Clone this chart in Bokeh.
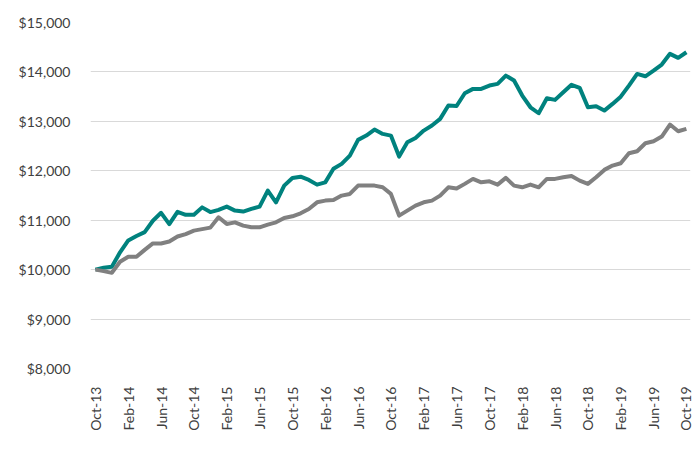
import math
from bokeh.plotting import figure
from bokeh.models import (ColumnDataSource, FixedTicker, NumeralTickFormatter,
                          Legend, LegendItem, Range1d)
from bokeh.embed import file_html
from bokeh.resources import INLINE

# Month index 0 = Oct-13 ... 72 = Oct-19
tick_positions = [0, 4, 8, 12, 16, 20, 24, 28, 32, 36, 40, 44, 48, 52, 56, 60, 64, 68, 72]
tick_labels = ["Oct-13", "Feb-14", "Jun-14", "Oct-14", "Feb-15", "Jun-15", "Oct-15",
               "Feb-16", "Jun-16", "Oct-16", "Feb-17", "Jun-17", "Oct-17", "Feb-18",
               "Jun-18", "Oct-18", "Feb-19", "Jun-19", "Oct-19"]

overlay = [10000, 10040, 10060, 10350, 10590, 10680, 10760, 10990, 11150, 10920,
           11170, 11110, 11110, 11260, 11165, 11210, 11275, 11195, 11175, 11230,
           11275, 11600, 11360, 11700, 11855, 11880, 11815, 11720, 11765, 12040,
           12140, 12307, 12625, 12712, 12834, 12746, 12712, 12287, 12577, 12665,
           12813, 12915, 13050, 13320, 13310, 13569, 13657, 13657, 13724, 13758,
           13926, 13825, 13522, 13285, 13164, 13467, 13434, 13589, 13740, 13677,
           13285, 13305, 13218, 13353, 13500, 13724, 13960, 13912, 14028, 14150,
           14366, 14285, 14398]

index = [10000, 9970, 9935, 10160, 10260, 10260, 10400, 10530, 10530, 10570,
         10670, 10720, 10790, 10820, 10850, 11060, 10925, 10957, 10890, 10856,
         10856, 10910, 10957, 11046, 11079, 11140, 11228, 11362, 11397, 11410,
         11498, 11532, 11700, 11700, 11700, 11666, 11532, 11093, 11194, 11295,
         11362, 11397, 11498, 11666, 11640, 11735, 11836, 11767, 11787, 11720,
         11856, 11700, 11666, 11720, 11666, 11836, 11836, 11869, 11895, 11801,
         11735, 11869, 12018, 12105, 12152, 12354, 12395, 12557, 12597, 12692,
         12935, 12800, 12848]

months = list(range(len(overlay)))

series_names = ["Municipal Bond + Overlay (net)", "Bloomberg Barclays Municipal Bond Index"]
colors = ["#00827E", "#808080"]

FONT = "Lato"
TEXT = "#404040"

p = figure(frame_width=600, frame_height=346, output_backend="svg", toolbar_location=None,
           x_range=Range1d(-0.6, 72.5), y_range=Range1d(8000, 15000),
           min_border_left=90, min_border_right=3, min_border_top=22,
           min_border_bottom=92)
p.outline_line_color = None
p.background_fill_color = "white"

src = ColumnDataSource(dict(x=months, a=overlay, b=index))
r1 = p.line("x", "a", source=src, line_color=colors[0], line_width=4, line_join="round")
r2 = p.line("x", "b", source=src, line_color=colors[1], line_width=4, line_join="round")

# y axis
p.yaxis.ticker = FixedTicker(ticks=[8000, 9000, 10000, 11000, 12000, 13000, 14000, 15000])
p.yaxis.formatter = NumeralTickFormatter(format="$0,0")
p.yaxis.axis_line_color = None
p.yaxis.major_tick_line_color = None
p.yaxis.minor_tick_line_color = None
p.yaxis.major_label_standoff = 14
p.yaxis.major_label_text_font = FONT
p.yaxis.major_label_text_font_size = "14px"
p.yaxis.major_label_text_color = TEXT

# x axis
p.xaxis.ticker = FixedTicker(ticks=tick_positions)
p.xaxis.major_label_overrides = {t: l for t, l in zip(tick_positions, tick_labels)}
p.xaxis.major_label_orientation = math.pi / 2
p.xaxis.axis_line_color = None
p.xaxis.major_tick_line_color = None
p.xaxis.minor_tick_line_color = None
p.xaxis.major_label_standoff = 12
p.xaxis.major_label_text_font = FONT
p.xaxis.major_label_text_font_size = "14px"
p.xaxis.major_label_text_color = TEXT

p.xgrid.grid_line_color = None
p.ygrid.grid_line_color = "#d9d9d9"
p.ygrid.grid_line_width = 1

legend = Legend(items=[LegendItem(label=series_names[0], renderers=[r1]),
                       LegendItem(label=series_names[1], renderers=[r2])],
                orientation="horizontal", location=(-32, -92))
legend.label_text_font = FONT
legend.label_text_font_size = "15.5px"
legend.label_text_color = TEXT
legend.glyph_width = 32
legend.label_standoff = 2
legend.spacing = 24
legend.border_line_color = None
legend.background_fill_alpha = 0
legend.padding = 0
legend.margin = 0
p.add_layout(legend, "center")

open("out.html", "w").write(file_html(p, INLINE))
